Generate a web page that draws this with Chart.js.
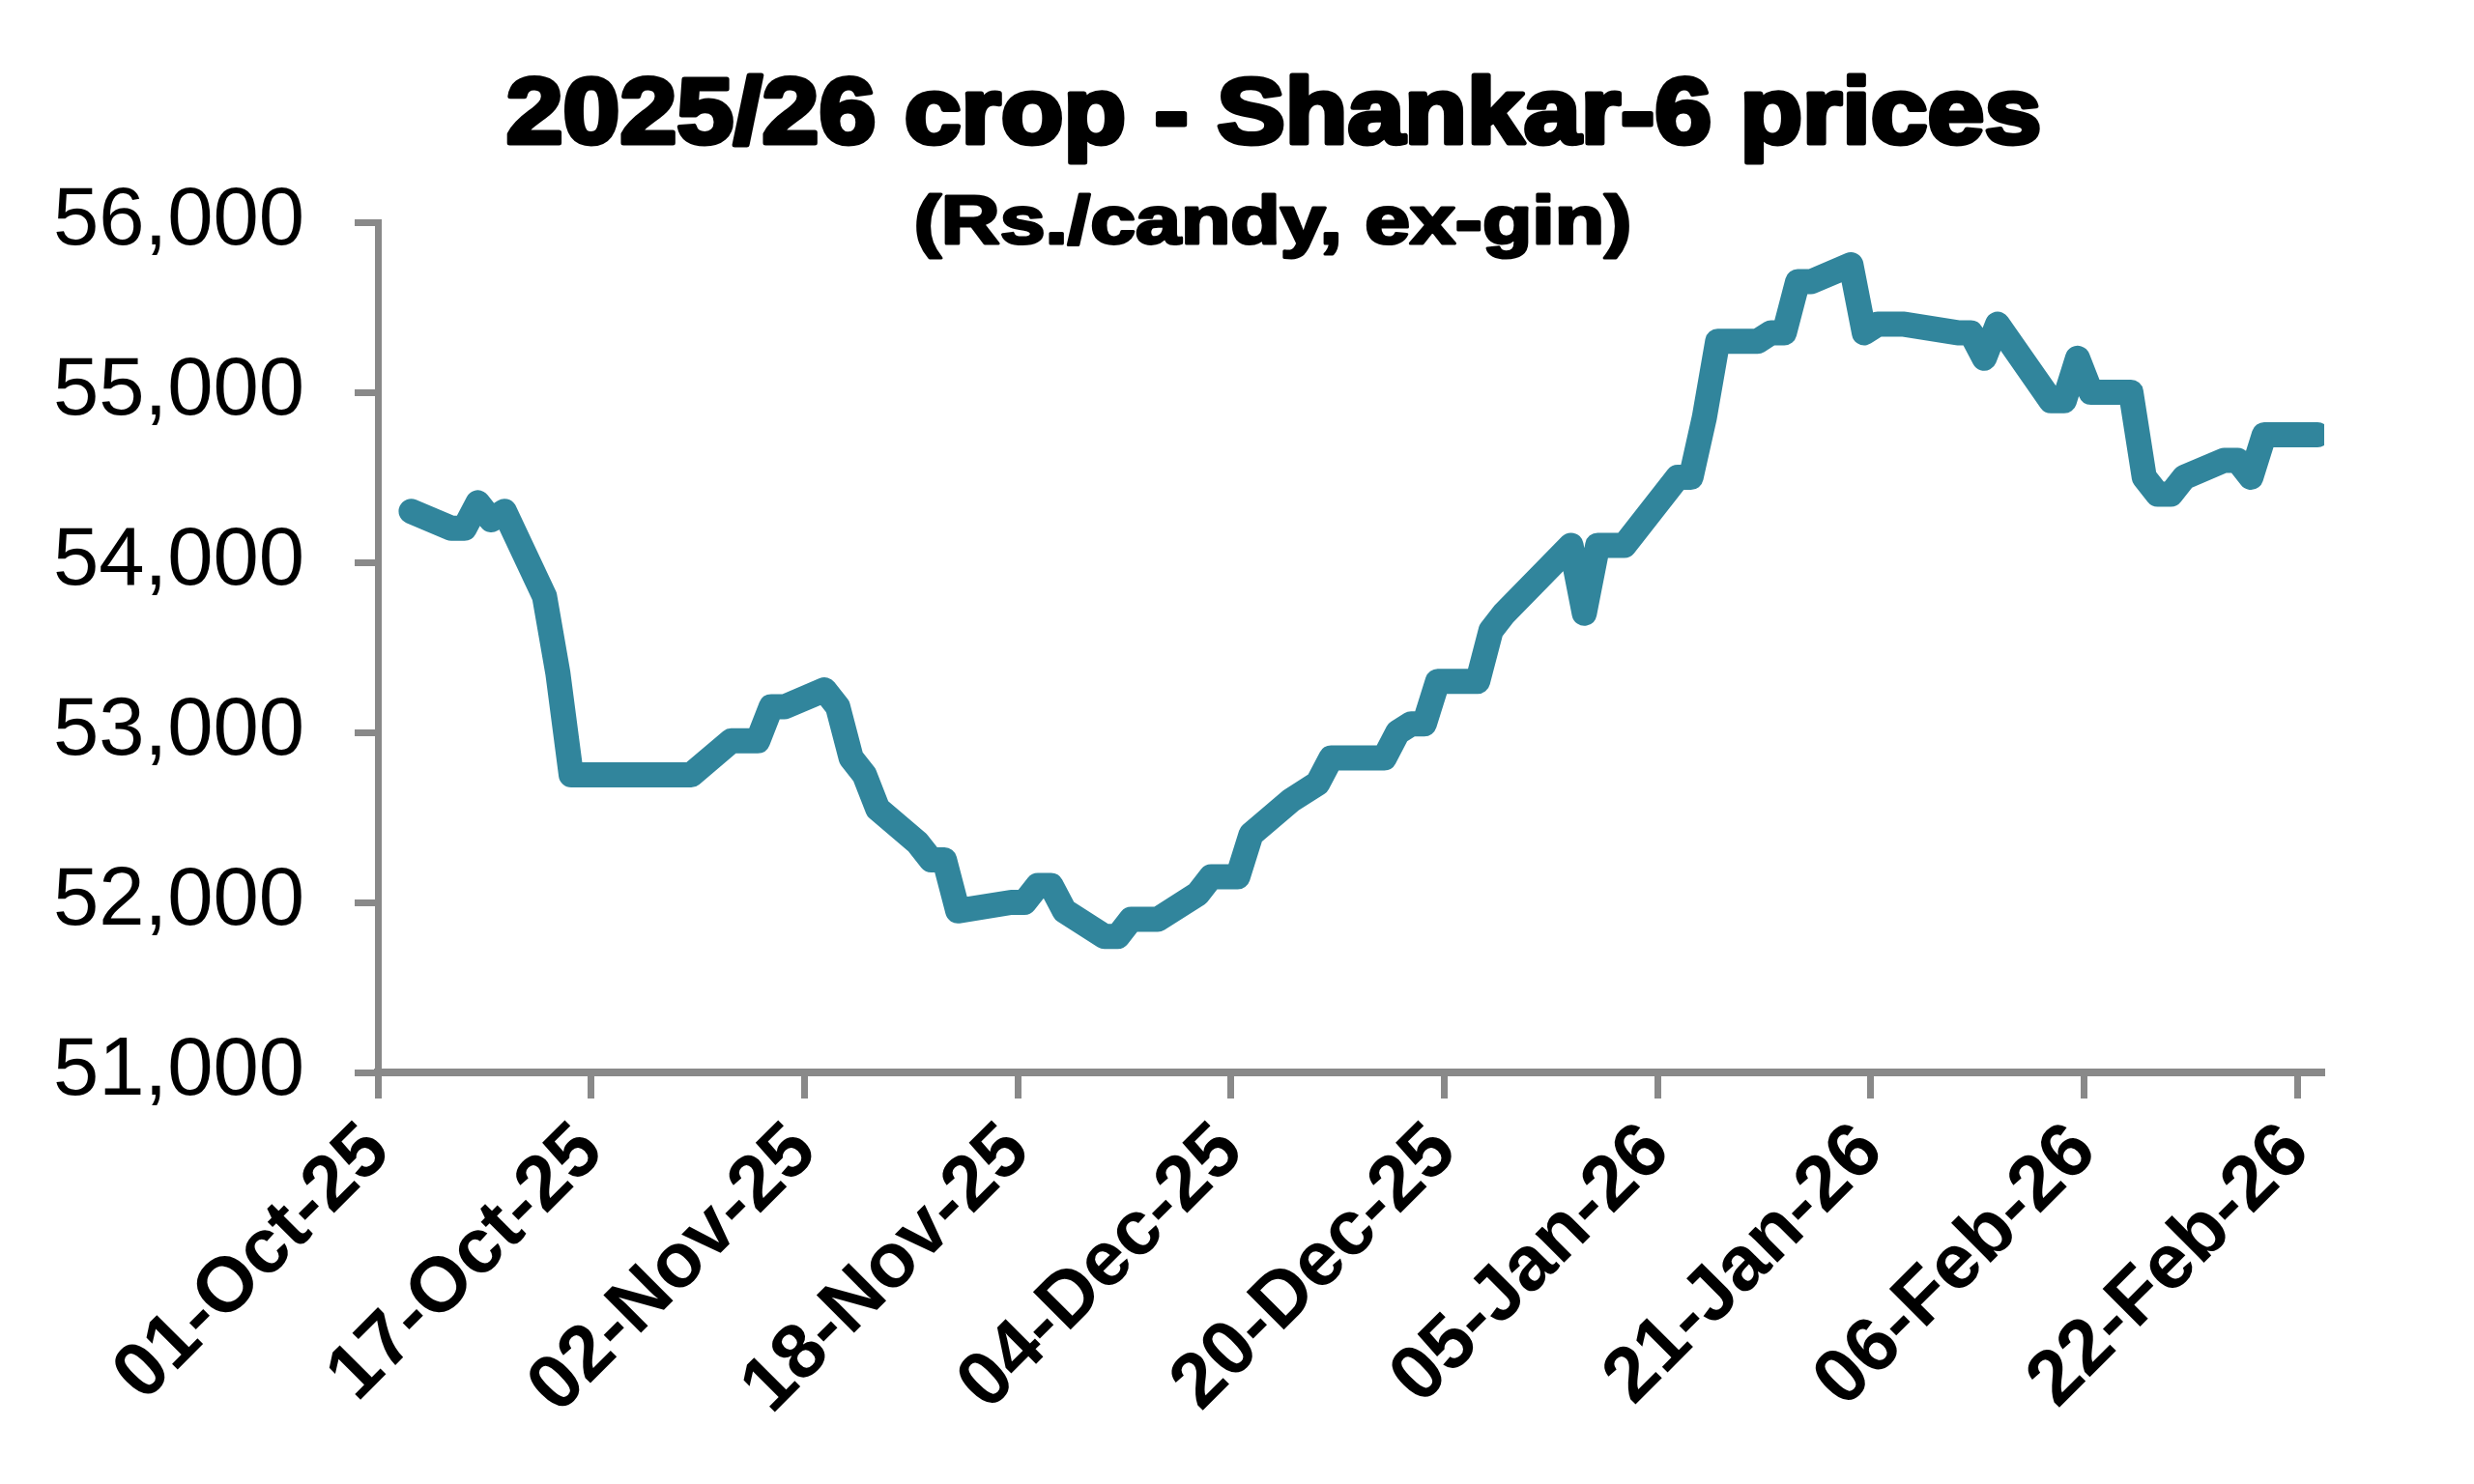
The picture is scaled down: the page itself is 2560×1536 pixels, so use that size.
<!DOCTYPE html>
<html>
<head>
<meta charset="utf-8">
<script src="https://cdn.jsdelivr.net/npm/chart.js@4.4.1/dist/chart.umd.min.js"></script>
<style>
    html, body { margin: 0; padding: 0; background: #fff; }
    #wrap { width: 2560px; height: 1536px; }
</style>
</head>
<body>
<div id="wrap"><canvas id="chart1" width="2560" height="1536"></canvas></div>
<script>
/** Datos: precios Shankar-6 (Rs./candy) */
const dates = [
    '2025-10-03', '2025-10-06', '2025-10-07', '2025-10-08', '2025-10-09', '2025-10-10',
    '2025-10-13', '2025-10-14', '2025-10-15', '2025-10-24', '2025-10-27', '2025-10-29',
    '2025-10-30', '2025-10-31', '2025-11-03', '2025-11-04', '2025-11-05', '2025-11-06',
    '2025-11-07', '2025-11-10', '2025-11-11', '2025-11-12', '2025-11-13', '2025-11-17',
    '2025-11-18', '2025-11-19', '2025-11-20', '2025-11-21', '2025-11-24', '2025-11-25',
    '2025-11-26', '2025-11-28', '2025-12-01', '2025-12-02', '2025-12-04', '2025-12-05',
    '2025-12-08', '2025-12-10', '2025-12-11', '2025-12-15', '2025-12-16', '2025-12-17',
    '2025-12-18', '2025-12-19', '2025-12-22', '2025-12-23', '2025-12-24', '2025-12-29',
    '2025-12-30', '2025-12-31', '2026-01-02', '2026-01-06', '2026-01-07', '2026-01-08',
    '2026-01-09', '2026-01-12', '2026-01-13', '2026-01-14', '2026-01-15', '2026-01-16',
    '2026-01-19', '2026-01-20', '2026-01-21', '2026-01-23', '2026-01-27', '2026-01-28',
    '2026-01-29', '2026-01-30', '2026-02-03', '2026-02-04', '2026-02-05', '2026-02-06',
    '2026-02-09', '2026-02-10', '2026-02-11', '2026-02-12', '2026-02-13', '2026-02-16',
    '2026-02-17', '2026-02-18', '2026-02-19', '2026-02-23'
];
const prices = [
    54300, 54200, 54200, 54350, 54250, 54300,
    53800, 53350, 52750, 52750, 52950, 52950,
    53150, 53150, 53250, 53150, 52850, 52750,
    52550, 52350, 52250, 52250, 51950, 52000,
    52000, 52100, 52100, 51950, 51800, 51800,
    51900, 51900, 52050, 52150, 52150, 52400,
    52600, 52700, 52850, 52850, 53000, 53050,
    53050, 53300, 53300, 53600, 53700, 54100,
    53700, 54100, 54100, 54500, 54500, 54850,
    55300, 55300, 55350, 55350, 55650, 55650,
    55750, 55350, 55400, 55400, 55350, 55350,
    55200, 55400, 54950, 54950, 55200, 55000,
    55000, 54500, 54400, 54400, 54500, 54600,
    54600, 54500, 54750, 54750
];
const tickDates = [
    '2025-10-01', '2025-10-17', '2025-11-02', '2025-11-18', '2025-12-04',
    '2025-12-20', '2026-01-05', '2026-01-21', '2026-02-06', '2026-02-22'
];
const startDate = '2025-10-01';
const endDate = '2026-02-24';
const yMin = 51000;
const yMax = 56000;
const yStep = 1000;
const titleText = '2025/26 crop - Shankar-6 prices';
const subtitleText = '(Rs./candy, ex-gin)';

const months = ['Jan', 'Feb', 'Mar', 'Apr', 'May', 'Jun', 'Jul', 'Aug', 'Sep', 'Oct', 'Nov', 'Dec'];
const DAY = 86400000;
const t0 = Date.parse(startDate + 'T00:00:00Z');
const dayOf = s => Math.round((Date.parse(s + 'T00:00:00Z') - t0) / DAY);
const fmtDay = d => {
    const dt = new Date(t0 + Math.round(d) * DAY);
    const dd = String(dt.getUTCDate()).padStart(2, '0');
    const yy = String(dt.getUTCFullYear()).slice(2);
    return `${dd}-${months[dt.getUTCMonth()]}-${yy}`;
};

// puntos centrados en su dia (eje de fechas tipo Excel)
const points = dates.map((d, i) => ({ x: dayOf(d) + 0.5, y: prices[i] }));

const gray = '#898989';
const lineColor = '#31859C';

// titulo y subtitulo, texto grueso ajustado al ancho
function heavyText(ctx, text, font, cx, baseline, width, stroke) {
    ctx.save();
    ctx.fillStyle = '#000';
    ctx.strokeStyle = '#000';
    ctx.lineJoin = 'round';
    ctx.lineWidth = stroke;
    ctx.textAlign = 'center';
    ctx.textBaseline = 'alphabetic';
    ctx.font = font;
    const w = ctx.measureText(text).width + stroke;
    ctx.translate(cx, baseline);
    ctx.scale(width / w, 1);
    ctx.strokeText(text, 0, 0);
    ctx.fillText(text, 0, 0);
    ctx.restore();
}

const titlePlugin = {
    id: 'titles',
    afterDraw(chart) {
        const ctx = chart.ctx;
        heavyText(ctx, titleText, 'bold 97px "Liberation Sans"', 1318, 148, 1594, 5);
        heavyText(ctx, subtitleText, 'bold 71px "Liberation Sans"', 1317, 252, 746, 3);
    }
};

const ctx1 = document.getElementById('chart1').getContext('2d');

const myChart = new Chart(ctx1, {
    type: 'line',
    data: {
        datasets: [{
            label: 'Shankar-6',
            data: points,
            borderColor: lineColor,
            backgroundColor: lineColor,
            borderWidth: 26,
            borderJoinStyle: 'round',
            borderCapStyle: 'round',
            pointRadius: 0,
            tension: 0
        }]
    },
    options: {
        responsive: false,
        animation: false,
        devicePixelRatio: 1,
        layout: {
            padding: { top: 230, right: 155, left: 0, bottom: 0 }
        },
        plugins: {
            legend: { display: false },
            tooltip: { enabled: false },
            title: { display: false }
        },
        scales: {
            x: {
                type: 'linear',
                min: 0,
                max: dayOf(endDate),
                afterBuildTicks: scale => {
                    scale.ticks = tickDates.map(d => ({ value: dayOf(d) }));
                },
                afterFit: scale => { scale.height = 426; },
                grid: {
                    drawOnChartArea: false,
                    drawTicks: true,
                    tickLength: 27,
                    tickWidth: 7,
                    tickColor: gray
                },
                border: { display: true, color: gray, width: 8 },
                ticks: {
                    autoSkip: false,
                    minRotation: 45,
                    maxRotation: 45,
                    padding: 8,
                    color: '#000',
                    font: { family: 'Liberation Sans', size: 80, weight: 'bold' },
                    callback: v => fmtDay(v)
                }
            },
            y: {
                min: yMin,
                max: yMax,
                afterFit: scale => { scale.width = 391; },
                grid: {
                    drawOnChartArea: false,
                    drawTicks: true,
                    tickLength: 24,
                    tickWidth: 7,
                    tickColor: gray
                },
                border: { display: true, color: gray, width: 7 },
                ticks: {
                    stepSize: yStep,
                    padding: 52,
                    color: '#000',
                    font: { family: 'Liberation Sans', size: 85 },
                    callback: v => v.toLocaleString('en-US')
                }
            }
        }
    },
    plugins: [titlePlugin]
});
</script>
</body>
</html>
